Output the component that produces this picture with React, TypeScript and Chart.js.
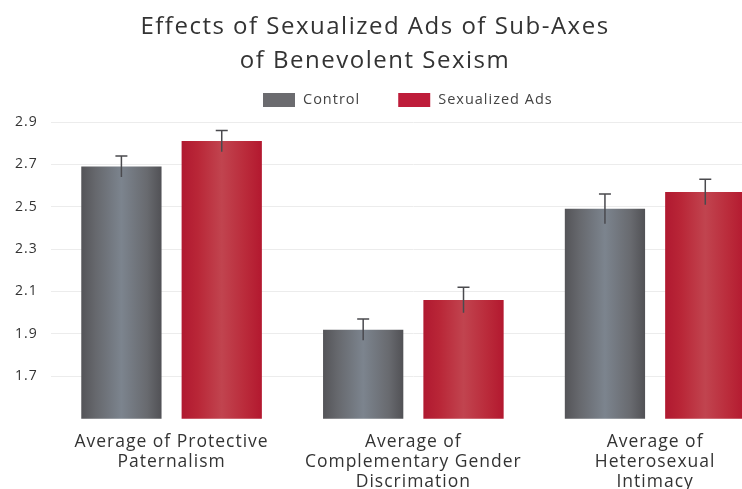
import React, { useEffect, useRef } from "react";
import { Chart, registerables } from "chart.js";

Chart.register(...registerables);

const titleLines = ["Effects of Sexualized Ads of Sub-Axes", "of Benevolent Sexism"];
const categories = [
  ["Average of Protective", "Paternalism"],
  ["Average of", "Complementary Gender", "Discrimation"],
  ["Average of", "Heterosexual", "Intimacy"],
];
const seriesNames = ["Control", "Sexualized Ads"];
const controlValues = [2.69, 1.92, 2.49];
const sexualizedValues = [2.81, 2.06, 2.57];
const controlErrors = [0.05, 0.05, 0.07];
const sexualizedErrors = [0.05, 0.06, 0.06];
const yTickValues = [1.7, 1.9, 2.1, 2.3, 2.5, 2.7, 2.9];

const FONT = "'Open Sans'";
const legendColors = ["#6b6b6f", "#be1d3a"];

const gradientStops = [
  [
    [0, "#545458"],
    [0.18, "#66686d"],
    [0.5, "#7c848e"],
    [0.82, "#686a6f"],
    [1, "#515155"],
  ],
  [
    [0, "#b01930"],
    [0.2, "#b92637"],
    [0.5, "#c1444f"],
    [0.8, "#ba2a3a"],
    [1, "#b3182f"],
  ],
];

const spacingPlugin = {
  id: "letterSpacing",
  beforeInit(chart: any) {
    chart.ctx.letterSpacing = "1px";
  },
  beforeLayout(chart: any) {
    chart.ctx.letterSpacing = "1px";
  },
  beforeDraw(chart: any) {
    chart.ctx.letterSpacing = "1px";
  },
};

const gradientPlugin = {
  id: "barGradient",
  beforeDatasetsDraw(chart: any) {
    const ctx = chart.ctx;
    chart.data.datasets.forEach((_: any, di: number) => {
      const meta = chart.getDatasetMeta(di);
      meta.data.forEach((el: any) => {
        const g = ctx.createLinearGradient(el.x - el.width / 2, 0, el.x + el.width / 2, 0);
        gradientStops[di].forEach(([o, c]: any) => g.addColorStop(o, c));
        el.options.backgroundColor = g;
      });
    });
  },
};

const errorPlugin = {
  id: "errorBars",
  afterDatasetsDraw(chart: any) {
    const ctx = chart.ctx;
    const y = chart.scales.y;
    const errs = [controlErrors, sexualizedErrors];
    chart.data.datasets.forEach((ds: any, di: number) => {
      const meta = chart.getDatasetMeta(di);
      meta.data.forEach((el: any, i: number) => {
        const v = ds.data[i];
        const e = errs[di][i];
        const top = y.getPixelForValue(v + e);
        const bot = y.getPixelForValue(v - e);
        ctx.save();
        ctx.strokeStyle = "#4a4a4e";
        ctx.lineWidth = 1.5;
        ctx.beginPath();
        ctx.moveTo(el.x, bot);
        ctx.lineTo(el.x, top);
        ctx.moveTo(el.x - 6, top);
        ctx.lineTo(el.x + 6, top);
        ctx.stroke();
        ctx.restore();
      });
    });
  },
};

const titleLegendPlugin = {
  id: "titleLegend",
  afterDraw(chart: any) {
    const ctx = chart.ctx;
    ctx.save();
    ctx.fillStyle = "#333333";
    ctx.letterSpacing = "1.5px";
    ctx.font = `400 24px ${FONT}`;
    ctx.textAlign = "center";
    ctx.textBaseline = "middle";
    ctx.fillText(titleLines[0], 375, 27);
    ctx.fillText(titleLines[1], 375, 61);

    ctx.letterSpacing = "1px";
    ctx.font = `400 14.5px ${FONT}`;
    ctx.textAlign = "left";
    let x = 263;
    seriesNames.forEach((n, i) => {
      ctx.fillStyle = legendColors[i];
      ctx.fillRect(x, 93, 32, 14);
      ctx.fillStyle = "#444444";
      ctx.fillText(n, x + 40, 100);
      x += 40 + ctx.measureText(n).width + 38;
    });
    ctx.restore();
  },
};

export default function App() {
  const ref = useRef<HTMLCanvasElement>(null);
  useEffect(() => {
    if (!ref.current) return;
    const chart = new Chart(ref.current, {
      type: "bar",
      data: {
        labels: categories,
        datasets: [
          {
            label: seriesNames[0],
            data: controlValues,
            backgroundColor: () => "#6b6d72",
            categoryPercentage: 0.83,
            barPercentage: 0.8,
          },
          {
            label: seriesNames[1],
            data: sexualizedValues,
            backgroundColor: () => "#bd2038",
            categoryPercentage: 0.83,
            barPercentage: 0.8,
          },
        ],
      },
      options: {
        responsive: false,
        animation: false,
        layout: { padding: { top: 122, left: 2, right: 6 } },
        plugins: {
          title: { display: false },
          tooltip: { enabled: false },
          legend: { display: false },
        },
        scales: {
          x: {
            grid: { display: false },
            border: { display: false },
            ticks: {
              color: "#333333",
              font: { family: FONT, size: 17.5, lineHeight: 1.15 },
              padding: 5,
              maxRotation: 0,
            },
          },
          y: {
            min: 1.5,
            max: 2.9,
            border: { display: false },
            grid: { color: "#ececec", drawTicks: false },
            afterBuildTicks: (scale: any) => {
              scale.ticks = yTickValues.map((v) => ({ value: v }));
            },
            ticks: {
              color: "#333333",
              font: { family: FONT, size: 14 },
              padding: 13,
              callback: (v: any) => Number(v).toFixed(1),
            },
          },
        },
      },
      plugins: [spacingPlugin, gradientPlugin, errorPlugin, titleLegendPlugin],
    });
    return () => chart.destroy();
  }, []);
  return (
    <div
      style={{
        position: "fixed",
        left: 0,
        top: 0,
        width: 742,
        height: 489,
        overflow: "hidden",
        background: "#ffffff",
      }}
    >
      <canvas ref={ref} width={782} height={497} style={{ display: "block" }} />
    </div>
  );
}
